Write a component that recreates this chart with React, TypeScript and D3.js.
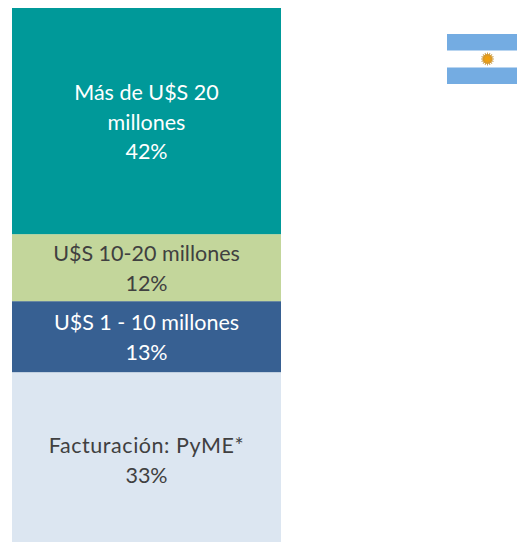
import React from "react";
import * as d3 from "d3";

const W = 517, H = 542;
const categories = ["Facturación: PyME*", "U$S 1 - 10 millones", "U$S 10-20 millones", "Más de U$S 20 millones"];
const heightShare = [31.8, 13.3, 12.55, 42.35];
const shownPercent = ["33%", "13%", "12%", "42%"];
const fills = ["#dce6f1", "#376092", "#c3d69b", "#009999"];
const textFills = ["#404040", "#ffffff", "#404040", "#ffffff"];
const labelLines = [["Facturación: PyME*"], ["U$S 1 - 10 millones"], ["U$S 10-20 millones"], ["Más de U$S 20", "millones"]];
const labelSpacing = [0.55, 0, 0, 0];
const textTop = [437, 314, 245, 84];

const y = d3.scaleLinear().domain([0, 100]).range([542, 8]);
const x = d3.scaleBand().domain(["Argentina"]).range([12, 281]);
const stacked = d3.stack<number[]>().keys(categories.map((_, i) => String(i))).value((d, k) => d[+k])([heightShare]);
const rays = d3.range(16).map(i => (i * 360) / 16);

export default function App() {
  const bw = x.bandwidth();
  const x0 = x("Argentina") as number;
  return (
    <svg width={W} height={H} style={{ position: "absolute", left: 0, top: 0, fontFamily: "Lato, Carlito, sans-serif" }}>
      {stacked.map((s, i) => {
        const [a, b] = s[0];
        const lines = [...labelLines[i], shownPercent[i]];
        return (
          <g key={categories[i]}>
            <rect x={x0} width={bw} y={y(b)} height={y(a) - y(b)} fill={fills[i]} />
            <text textAnchor="middle" fontSize={21.5} fill={textFills[i]}>
              {lines.map((t, j) => (
                <tspan key={j} x={x0 + bw / 2} y={textTop[i] + 16 + j * 29.5} letterSpacing={j === lines.length - 1 ? 0 : labelSpacing[i]}>{t}</tspan>
              ))}
            </text>
          </g>
        );
      })}
      <g>
        <rect x={447} y={34} width={70} height={50} fill="#ffffff" />
        <rect x={447} y={34} width={70} height={16.5} fill="#74ace2" />
        <rect x={447} y={67.5} width={70} height={16.5} fill="#74ace2" />
        {rays.map(r => (
          <line key={r} x1={487.5} y1={52.5} x2={487.5} y2={55} stroke="#c9a25a" strokeWidth={1} transform={`rotate(${r} 487.5 59)`} />
        ))}
        <circle cx={487.5} cy={59} r={5} fill="#d99a2b" />
        <circle cx={487.5} cy={59} r={3} fill="#f0a010" />
      </g>
    </svg>
  );
}
